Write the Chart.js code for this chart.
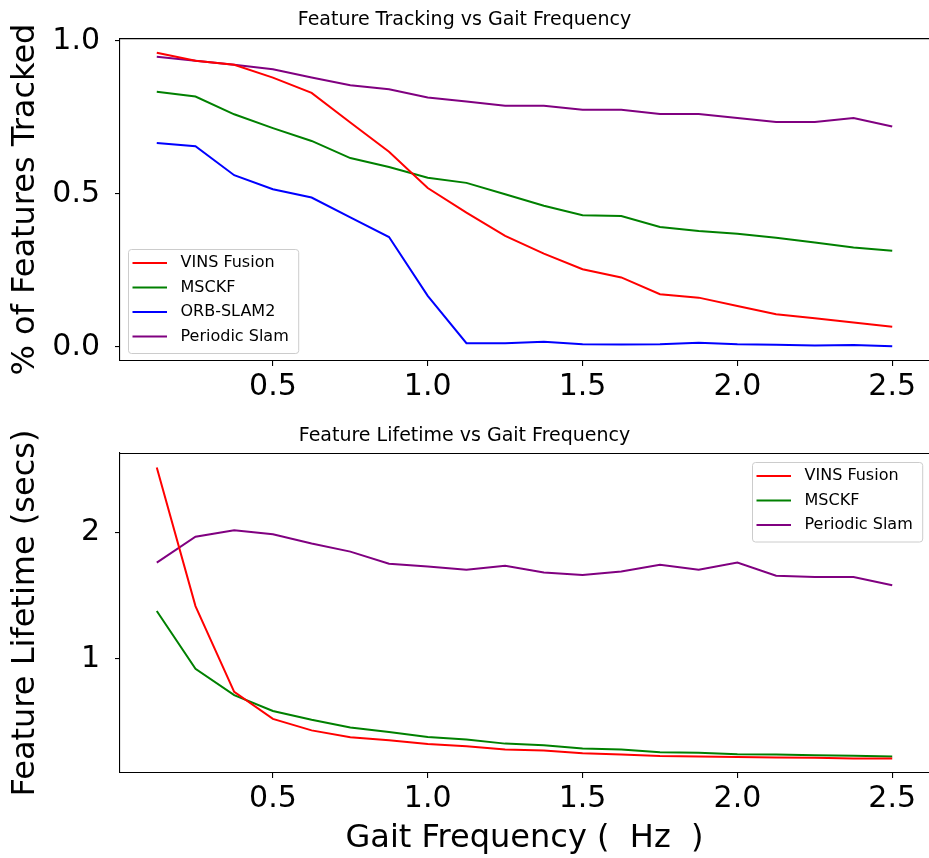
<!DOCTYPE html>
<html>
<head>
<meta charset="utf-8">
<title>Feature Tracking / Lifetime vs Gait Frequency</title>
<script src="https://cdn.jsdelivr.net/npm/chart.js@4.4.1/dist/chart.umd.min.js"></script>
<style>
  html, body { margin: 0; padding: 0; background: #fff; overflow: hidden; }
  .panel { position: absolute; left: 0; width: 929px; }
  .panel canvas { display: block; }
</style>
</head>
<body>
<div class="panel" style="top:0;height:420px"><canvas id="trackChart" width="929" height="420"></canvas></div>
<div class="panel" style="top:420px;height:438px"><canvas id="lifeChart" width="929" height="438"></canvas></div>

<script>
// ═══════════════════════════════════════════════════════════════════════
// DATA — values
// ═══════════════════════════════════════════════════════════════════════
const gaitFreq = [0.125, 0.25, 0.375, 0.5, 0.625, 0.75, 0.875, 1.0, 1.125, 1.25,
                  1.375, 1.5, 1.625, 1.75, 1.875, 2.0, 2.125, 2.25, 2.375, 2.5];

// % of features tracked
const trackVins     = [0.961, 0.935, 0.922, 0.880, 0.830, 0.733, 0.638, 0.519, 0.439, 0.363,
                       0.305, 0.254, 0.227, 0.172, 0.161, 0.134, 0.107, 0.094, 0.080, 0.066];
const trackMsckf    = [0.834, 0.818, 0.760, 0.715, 0.673, 0.617, 0.588, 0.553, 0.536, 0.499,
                       0.461, 0.430, 0.428, 0.392, 0.379, 0.370, 0.357, 0.341, 0.325, 0.314];
const trackOrb      = [0.666, 0.656, 0.561, 0.515, 0.488, 0.423, 0.359, 0.167, 0.012, 0.012,
                       0.017, 0.009, 0.008, 0.009, 0.014, 0.009, 0.007, 0.005, 0.006, 0.002];
const trackPeriodic = [0.948, 0.935, 0.922, 0.907, 0.880, 0.855, 0.842, 0.815, 0.802, 0.788,
                       0.788, 0.775, 0.775, 0.761, 0.761, 0.748, 0.735, 0.735, 0.748, 0.720];

// feature lifetime (secs)
const lifeVins      = [2.517, 1.418, 0.738, 0.523, 0.432, 0.377, 0.353, 0.324, 0.306, 0.280,
                       0.272, 0.251, 0.241, 0.228, 0.225, 0.220, 0.217, 0.215, 0.209, 0.209];
const lifeMsckf     = [1.379, 0.921, 0.712, 0.586, 0.516, 0.455, 0.419, 0.379, 0.359, 0.327,
                       0.314, 0.288, 0.280, 0.259, 0.254, 0.243, 0.240, 0.235, 0.230, 0.225];
const lifePeriodic  = [1.763, 1.968, 2.020, 1.988, 1.915, 1.850, 1.753, 1.732, 1.706, 1.737,
                       1.685, 1.664, 1.693, 1.745, 1.706, 1.763, 1.659, 1.648, 1.648, 1.583];

const xTicks         = [0.5, 1.0, 1.5, 2.0, 2.5];
const trackTicks     = [0.0, 0.5, 1.0];
const lifeTicks      = [1, 2];

;(function () {
  'use strict';

  const FONT = '"DejaVu Sans", Verdana, sans-serif';
  const INK = '#000';
  const COLORS = { vins: '#ff0000', msckf: '#008000', orb: '#0000ff', periodic: '#800080' };

  // legend box drawn inside the plot, matplotlib style
  const boxLegend = {
    id: 'boxLegend',
    afterDatasetsDraw(chart, args, opts) {
      const { ctx, chartArea } = chart;
      const sets = chart.data.datasets;
      ctx.save();
      ctx.font = opts.fontSize + 'px ' + FONT;
      const textW = Math.max(...sets.map(d => ctx.measureText(d.label).width));
      const w = opts.textX + textW + opts.padRight;
      const h = opts.padTop + opts.rowH * (sets.length - 1) + opts.padBottom;
      const lowerLeft = opts.corner === 'lower left';
      const x = Math.round(lowerLeft ? chartArea.left + opts.gapX : chartArea.right - opts.gapX - w);
      const y = Math.round(lowerLeft ? chartArea.bottom - opts.gapY - h : chartArea.top + opts.gapY);

      ctx.beginPath();
      if (ctx.roundRect) ctx.roundRect(x + 0.5, y + 0.5, w, h, 3);
      else ctx.rect(x + 0.5, y + 0.5, w, h);
      ctx.fillStyle = 'rgba(255,255,255,0.8)';
      ctx.fill();
      ctx.strokeStyle = '#cccccc';
      ctx.lineWidth = 1;
      ctx.stroke();

      ctx.textBaseline = 'middle';
      ctx.textAlign = 'left';
      sets.forEach((d, i) => {
        const cy = y + opts.padTop + i * opts.rowH;
        ctx.beginPath();
        ctx.moveTo(x + opts.lineX0, cy);
        ctx.lineTo(x + opts.lineX1, cy);
        ctx.strokeStyle = d.borderColor;
        ctx.lineWidth = d.borderWidth;
        ctx.stroke();
        ctx.fillStyle = INK;
        ctx.fillText(d.label, x + opts.textX, cy);
      });
      ctx.restore();
    }
  };

  // top spine (left/bottom come from the axes)
  const topSpine = {
    id: 'topSpine',
    afterDraw(chart) {
      const { ctx, chartArea } = chart;
      ctx.save();
      ctx.strokeStyle = INK;
      ctx.lineWidth = 1.1;
      ctx.beginPath();
      ctx.moveTo(chartArea.left, chartArea.top + 0.5);
      ctx.lineTo(chartArea.right, chartArea.top + 0.5);
      ctx.stroke();
      ctx.restore();
    }
  };

  function series(label, values, color) {
    return {
      label,
      data: values.map((v, i) => ({ x: gaitFreq[i], y: v })),
      borderColor: color,
      backgroundColor: color,
      borderWidth: 2,
      pointRadius: 0,
      tension: 0,
      fill: false
    };
  }

  const axisGrid = { drawOnChartArea: false, drawTicks: true, tickLength: 5, color: INK, lineWidth: 1.1 };
  const tickFont = { family: FONT, size: 30 };

  function makePanel(canvasId, cfg) {
    const el = document.getElementById(canvasId);
    return new Chart(el, {
      type: 'line',
      data: { datasets: cfg.datasets },
      plugins: [boxLegend, topSpine],
      options: {
        responsive: false,
        animation: false,
        events: [],
        layout: { padding: 0 },
        plugins: {
          legend: { display: false },
          tooltip: { enabled: false },
          title: {
            display: true,
            text: cfg.title,
            color: INK,
            font: { family: FONT, size: 19, weight: 'normal' },
            padding: cfg.titlePad
          },
          boxLegend: Object.assign({
            fontSize: 16, rowH: 24.5, padTop: 14, padBottom: 16.5,
            lineX0: 4.5, lineX1: 39, textX: 52.5, padRight: 9.5
          }, cfg.legend)
        },
        scales: {
          x: {
            type: 'linear',
            min: 0.00625,
            max: 2.61875,
            afterBuildTicks: s => { s.ticks = xTicks.map(v => ({ value: v })); },
            afterFit: s => { s.height = cfg.xAxisHeight; },
            ticks: { font: tickFont, color: INK, padding: 3, maxRotation: 0, autoSkip: false,
                     callback: v => Number(v).toFixed(1) },
            grid: axisGrid,
            border: { color: INK, width: 1.1 },
            title: cfg.xTitle
              ? { display: true, text: cfg.xTitle, color: INK, font: { family: FONT, size: 32 },
                  padding: { top: 0, bottom: 0 } }
              : { display: false }
          },
          y: {
            min: cfg.yMin,
            max: cfg.yMax,
            afterBuildTicks: s => { s.ticks = cfg.yTicks.map(v => ({ value: v })); },
            afterFit: s => { s.width = 120; },
            ticks: { font: tickFont, color: INK, padding: 15, callback: cfg.yFormat },
            grid: axisGrid,
            border: { color: INK, width: 1.1 },
            title: { display: true, text: cfg.yTitle, color: INK, font: { family: FONT, size: 32 },
                     padding: { top: 6.8, bottom: 0 } }
          }
        }
      }
    });
  }

  makePanel('trackChart', {
    title: 'Feature Tracking vs Gait Frequency',
    titlePad: { top: 9, bottom: 6.3 },
    datasets: [
      series('VINS Fusion', trackVins, COLORS.vins),
      series('MSCKF', trackMsckf, COLORS.msckf),
      series('ORB-SLAM2', trackOrb, COLORS.orb),
      series('Periodic Slam', trackPeriodic, COLORS.periodic)
    ],
    yMin: -0.046,
    yMax: 1.009,
    yTicks: trackTicks,
    yFormat: v => Number(v).toFixed(1),
    yTitle: '% of Features Tracked',
    xAxisHeight: 59,
    legend: { corner: 'lower left', gapX: 8, gapY: 8 }
  });

  makePanel('lifeChart', {
    title: 'Feature Lifetime vs Gait Frequency',
    titlePad: { top: 1.6, bottom: 5.6 },
    datasets: [
      series('VINS Fusion', lifeVins, COLORS.vins),
      series('MSCKF', lifeMsckf, COLORS.msckf),
      series('Periodic Slam', lifePeriodic, COLORS.periodic)
    ],
    yMin: 0.094,
    yMax: 2.632,
    yTicks: lifeTicks,
    yFormat: v => String(v),
    yTitle: 'Feature Lifetime (secs)',
    xTitle: 'Gait Frequency (  Hz  )',
    xAxisHeight: 85,
    legend: { corner: 'upper right', gapX: 6.5, gapY: 9 }
  });
})();
</script>
</body>
</html>
